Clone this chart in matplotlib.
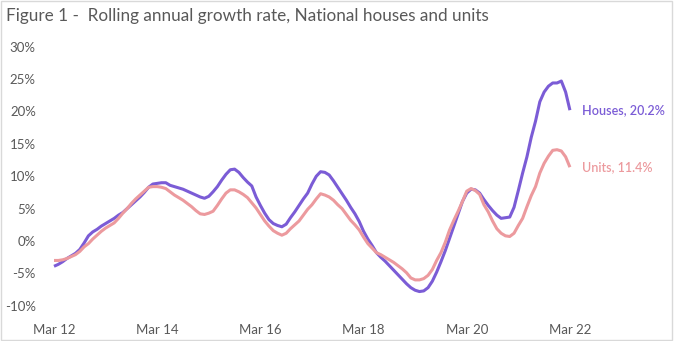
import matplotlib.pyplot as plt
from matplotlib.patches import Rectangle

# monthly, Mar 2012 .. Mar 2022 (rolling annual growth, %)
houses = [
    -3.9, -3.6, -3.2, -2.7, -2.3, -1.9, -1.3, -0.3, 0.8, 1.4, 1.8, 2.3,
    2.7, 3.1, 3.5, 4.0, 4.4, 5.0, 5.6, 6.2, 6.8, 7.5, 8.3, 8.8,
    8.9, 9.0, 9.0, 8.6, 8.4, 8.2, 8.0, 7.7, 7.4, 7.1, 6.8, 6.6,
    6.9, 7.6, 8.4, 9.4, 10.3, 11.0, 11.1, 10.6, 9.8, 9.1, 8.5, 6.8,
    5.5, 4.3, 3.3, 2.7, 2.4, 2.2, 2.6, 3.6, 4.5, 5.5, 6.5, 7.4,
    8.8, 10.0, 10.7, 10.6, 10.2, 9.3, 8.3, 7.3, 6.3, 5.2, 4.2, 3.0,
    1.5, 0.3, -0.7, -1.8, -2.5, -3.1, -3.8, -4.5, -5.2, -5.9, -6.6, -7.2,
    -7.6, -7.8, -7.7, -7.2, -6.2, -4.8, -3.2, -1.5, 0.4, 2.3, 4.2, 6.1,
    7.4, 8.0, 7.9, 7.4, 6.4, 5.5, 4.7, 4.0, 3.5, 3.6, 3.7, 5.2,
    7.8, 10.5, 13.0, 16.0, 18.5, 21.5, 23.0, 23.9, 24.4, 24.4, 24.7, 23.0,
    20.2,
]
units = [
    -3.0, -3.0, -2.9, -2.7, -2.4, -2.1, -1.6, -0.9, -0.4, 0.3, 0.9, 1.5,
    2.0, 2.4, 2.8, 3.5, 4.3, 5.0, 5.8, 6.5, 7.1, 7.7, 8.3, 8.4,
    8.4, 8.3, 8.1, 7.6, 7.1, 6.7, 6.3, 5.8, 5.3, 4.7, 4.2, 4.1,
    4.3, 4.6, 5.5, 6.5, 7.4, 7.9, 7.9, 7.6, 7.2, 6.7, 5.9, 5.1,
    4.1, 3.1, 2.3, 1.6, 1.2, 0.9, 1.2, 1.9, 2.5, 3.1, 4.0, 4.9,
    5.6, 6.5, 7.3, 7.1, 6.8, 6.3, 5.6, 5.0, 4.1, 3.2, 2.5, 1.7,
    0.6, -0.4, -1.1, -1.8, -2.1, -2.5, -2.9, -3.3, -3.8, -4.3, -4.9, -5.7,
    -6.0, -6.0, -5.8, -5.3, -4.4, -3.0, -1.8, -0.2, 1.7, 3.2, 4.6, 6.1,
    7.7, 8.1, 7.8, 7.2, 5.6, 4.5, 3.1, 1.9, 1.2, 0.8, 0.7, 1.2,
    2.4, 3.5, 5.3, 7.0, 8.4, 10.5, 12.0, 13.1, 14.0, 14.1, 13.9, 13.0,
    11.4,
]
tick_months = [0, 24, 48, 72, 96, 120]
tick_labels = ["Mar 12", "Mar 14", "Mar 16", "Mar 18", "Mar 20", "Mar 22"]
y_ticks = [-10, -5, 0, 5, 10, 15, 20, 25, 30]

purple = "#7B5CD6"
pink = "#EC9A9E"
grey = "#595959"

fig = plt.figure(figsize=(6.85, 3.41), dpi=100)
ax = fig.add_axes([40 / 685, 35.2 / 341, 600 / 685, 259.1 / 341])

months = list(range(len(houses)))
ax.plot(months, houses, color=purple, lw=2.2, solid_capstyle="butt", clip_on=False)
ax.plot(months, units, color=pink, lw=2.2, solid_capstyle="butt", clip_on=False)

ax.set_xlim(-3.26, 136.3)
ax.set_ylim(-10, 30)
ax.set_xticks(tick_months)
ax.set_xticklabels(tick_labels)
ax.set_yticks(y_ticks)
ax.set_yticklabels([f"{v}%" for v in y_ticks])
ax.tick_params(length=0, labelsize=9.5, labelcolor=grey)
ax.tick_params(axis="x", pad=13)
ax.tick_params(axis="y", pad=3)
for lab in ax.get_xticklabels() + ax.get_yticklabels():
    lab.set_family("Lato")
for s in ax.spines.values():
    s.set_visible(False)

ax.annotate(f"Houses, {houses[-1]}%", (months[-1], houses[-1]), xytext=(9, 0),
            textcoords="offset points", va="center", ha="left",
            color=purple, fontsize=9, fontweight="semibold", family="Lato")
ax.annotate(f"Units, {units[-1]}%", (months[-1], units[-1]), xytext=(9, 0),
            textcoords="offset points", va="center", ha="left",
            color=pink, fontsize=9, fontweight="semibold", family="Lato")

fig.text(6 / 685, 1 - 16 / 341, "Figure 1 -  Rolling annual growth rate, National houses and units",
         ha="left", va="center", fontsize=12.3, color=grey, family="Lato")

# light frame around the chart
fig.patches.append(Rectangle((0.5 / 685, 1.5 / 341), 671 / 685, 338.5 / 341,
                             transform=fig.transFigure, fill=False,
                             edgecolor="#D9D9D9", lw=1))

fig.savefig("out.png", dpi=100)
